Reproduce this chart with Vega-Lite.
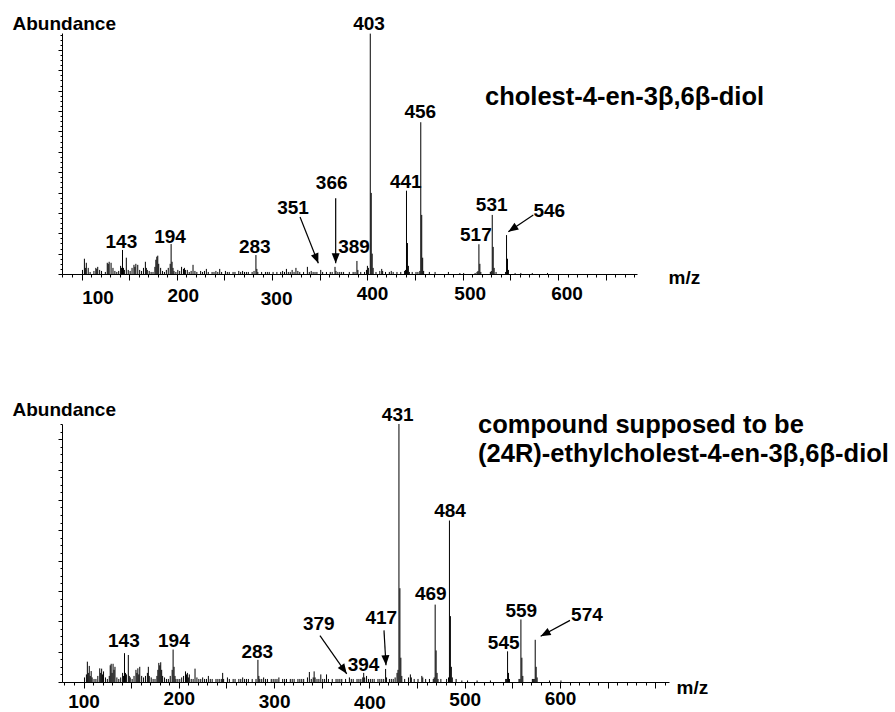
{
  "$schema": "https://vega.github.io/schema/vega-lite/v6.json",
  "padding": {"left": 12, "top": 14, "right": 0, "bottom": 0},
  "background": "white",
  "spacing": 91,
  "config": {
    "view": {"stroke": null},
    "font": "Liberation Sans",
    "axis": {"domainColor": "black", "tickColor": "black", "labelColor": "black", "titleColor": "black", "grid": false, "domainWidth": 1, "tickWidth": 1}
  },
  "datasets": {
    "top": [
      {"mz":101,"ab":2},{"mz":103,"ab":7.5},{"mz":104,"ab":3},{"mz":105,"ab":5.5},{"mz":107,"ab":3},{"mz":109,"ab":1},{"mz":113,"ab":1.5},{"mz":115,"ab":3},{"mz":116,"ab":2.5},{"mz":117,"ab":3.5},{"mz":119,"ab":2},{"mz":121,"ab":1.5},{"mz":125,"ab":1},{"mz":127,"ab":5.5},{"mz":128,"ab":5},{"mz":129,"ab":6},{"mz":131,"ab":5.5},{"mz":133,"ab":3},{"mz":135,"ab":1.5},{"mz":137,"ab":1},{"mz":139,"ab":1.5},{"mz":141,"ab":4},{"mz":142,"ab":3},{"mz":143,"ab":11.8},{"mz":144,"ab":3},{"mz":145,"ab":2},{"mz":147,"ab":8},{"mz":149,"ab":2},{"mz":151,"ab":1.5},{"mz":153,"ab":3},{"mz":155,"ab":4.5},{"mz":156,"ab":3.5},{"mz":157,"ab":5},{"mz":159,"ab":4.5},{"mz":161,"ab":2},{"mz":163,"ab":1.5},{"mz":165,"ab":3},{"mz":167,"ab":6},{"mz":168,"ab":3},{"mz":169,"ab":2},{"mz":171,"ab":1.5},{"mz":173,"ab":1},{"mz":175,"ab":1},{"mz":177,"ab":3.5},{"mz":178,"ab":7},{"mz":179,"ab":8.5},{"mz":180,"ab":9},{"mz":181,"ab":5},{"mz":183,"ab":3},{"mz":185,"ab":1.5},{"mz":187,"ab":1},{"mz":189,"ab":2},{"mz":191,"ab":3},{"mz":193,"ab":5},{"mz":194,"ab":14.7},{"mz":195,"ab":6},{"mz":196,"ab":3},{"mz":197,"ab":1.5},{"mz":199,"ab":1},
      {"mz":201,"ab":2},{"mz":203,"ab":1.5},{"mz":205,"ab":3.5},{"mz":207,"ab":2.5},{"mz":208,"ab":3},{"mz":209,"ab":2},{"mz":211,"ab":2},{"mz":213,"ab":1},{"mz":215,"ab":1.5},{"mz":217,"ab":4.5},{"mz":219,"ab":1.5},{"mz":221,"ab":1},{"mz":225,"ab":1.5},{"mz":227,"ab":1},{"mz":229,"ab":1.5},{"mz":231,"ab":2.5},{"mz":233,"ab":1},{"mz":237,"ab":1},{"mz":239,"ab":1},{"mz":241,"ab":1.5},{"mz":243,"ab":1},{"mz":245,"ab":2.5},{"mz":247,"ab":1},{"mz":251,"ab":1.5},{"mz":253,"ab":1},{"mz":255,"ab":1},{"mz":259,"ab":1},{"mz":261,"ab":1},{"mz":265,"ab":1.5},{"mz":267,"ab":1},{"mz":269,"ab":1.5},{"mz":271,"ab":1},{"mz":273,"ab":1},{"mz":275,"ab":1},{"mz":279,"ab":1},{"mz":281,"ab":1.5},{"mz":283,"ab":9.3},{"mz":284,"ab":2.5},{"mz":285,"ab":1},{"mz":289,"ab":1},{"mz":293,"ab":1},{"mz":295,"ab":1},{"mz":297,"ab":1},
      {"mz":301,"ab":1},{"mz":305,"ab":1},{"mz":309,"ab":1},{"mz":311,"ab":1.5},{"mz":313,"ab":1},{"mz":315,"ab":2.5},{"mz":317,"ab":1},{"mz":319,"ab":1},{"mz":321,"ab":2},{"mz":323,"ab":1},{"mz":325,"ab":3},{"mz":327,"ab":1.5},{"mz":329,"ab":1},{"mz":333,"ab":1},{"mz":337,"ab":3.5},{"mz":339,"ab":1},{"mz":341,"ab":1.5},{"mz":343,"ab":1},{"mz":345,"ab":1},{"mz":347,"ab":1},{"mz":351,"ab":2},{"mz":353,"ab":1},{"mz":357,"ab":1},{"mz":361,"ab":1},{"mz":363,"ab":1},{"mz":366,"ab":3.5},{"mz":367,"ab":1.5},{"mz":369,"ab":1},{"mz":371,"ab":1},{"mz":373,"ab":1},{"mz":375,"ab":1},{"mz":381,"ab":1},{"mz":385,"ab":1},{"mz":387,"ab":1},{"mz":389,"ab":6.4},{"mz":390,"ab":2},{"mz":393,"ab":1},{"mz":397,"ab":1},{"mz":399,"ab":2},{"mz":400,"ab":4},{"mz":401,"ab":3},{"mz":403,"ab":118},{"mz":404,"ab":39.8},{"mz":405,"ab":10},{"mz":406,"ab":3},{"mz":409,"ab":1},{"mz":413,"ab":1.5},{"mz":415,"ab":2.5},{"mz":416,"ab":1.5},{"mz":419,"ab":1},{"mz":423,"ab":1},{"mz":425,"ab":1.5},{"mz":427,"ab":1},{"mz":431,"ab":1},{"mz":435,"ab":1},{"mz":439,"ab":1.5},{"mz":440,"ab":2},{"mz":441,"ab":40.9},{"mz":442,"ab":15.2},{"mz":443,"ab":4},{"mz":444,"ab":1},{"mz":447,"ab":1},{"mz":451,"ab":1},{"mz":453,"ab":1},{"mz":455,"ab":1.5},{"mz":456,"ab":74.5},{"mz":457,"ab":29},{"mz":458,"ab":8},{"mz":459,"ab":1.5},{"mz":465,"ab":1},{"mz":471,"ab":1},{"mz":485,"ab":1},{"mz":497,"ab":0.5},{"mz":501,"ab":0.5},{"mz":513,"ab":0.5},{"mz":515,"ab":1},{"mz":516,"ab":1.5},{"mz":517,"ab":14.6},{"mz":518,"ab":5},{"mz":519,"ab":1},{"mz":529,"ab":1},{"mz":530,"ab":1.5},{"mz":531,"ab":29},{"mz":532,"ab":13.3},{"mz":533,"ab":3},{"mz":535,"ab":1},{"mz":545,"ab":1},{"mz":546,"ab":19.1},{"mz":547,"ab":7.5},{"mz":548,"ab":2},{"mz":555,"ab":0.5},{"mz":561,"ab":0.5},{"mz":573,"ab":0.5},{"mz":589,"ab":0.5}
    ],
    "bottom": [
      {"mz":101,"ab":1.5},{"mz":103,"ab":2.5},{"mz":104,"ab":6.7},{"mz":105,"ab":3},{"mz":106,"ab":5.3},{"mz":107,"ab":2},{"mz":108,"ab":3.6},{"mz":109,"ab":1.5},{"mz":111,"ab":1},{"mz":113,"ab":1},{"mz":115,"ab":2},{"mz":117,"ab":4.5},{"mz":118,"ab":3},{"mz":119,"ab":4.4},{"mz":120,"ab":2.5},{"mz":121,"ab":3.5},{"mz":123,"ab":1.5},{"mz":125,"ab":1},{"mz":127,"ab":2},{"mz":128,"ab":5.5},{"mz":129,"ab":6},{"mz":130,"ab":3},{"mz":131,"ab":6},{"mz":132,"ab":4},{"mz":133,"ab":5},{"mz":135,"ab":1.5},{"mz":137,"ab":1},{"mz":139,"ab":1.5},{"mz":141,"ab":3},{"mz":142,"ab":2},{"mz":143,"ab":9.5},{"mz":144,"ab":3},{"mz":145,"ab":2.5},{"mz":147,"ab":8.9},{"mz":148,"ab":2},{"mz":149,"ab":1.5},{"mz":151,"ab":1},{"mz":153,"ab":2},{"mz":155,"ab":4},{"mz":156,"ab":3},{"mz":157,"ab":4.5},{"mz":158,"ab":2.5},{"mz":159,"ab":5},{"mz":161,"ab":2},{"mz":163,"ab":1.5},{"mz":165,"ab":2},{"mz":167,"ab":3},{"mz":168,"ab":5},{"mz":169,"ab":2},{"mz":171,"ab":1.5},{"mz":173,"ab":1},{"mz":175,"ab":1},{"mz":177,"ab":2},{"mz":178,"ab":4},{"mz":179,"ab":6.3},{"mz":180,"ab":5.5},{"mz":181,"ab":6.5},{"mz":182,"ab":4},{"mz":183,"ab":2},{"mz":185,"ab":1.5},{"mz":187,"ab":1},{"mz":189,"ab":1},{"mz":191,"ab":2},{"mz":193,"ab":4},{"mz":194,"ab":10.7},{"mz":195,"ab":5},{"mz":196,"ab":2},{"mz":197,"ab":1},{"mz":199,"ab":1},
      {"mz":201,"ab":1},{"mz":203,"ab":1.5},{"mz":205,"ab":2},{"mz":207,"ab":3.5},{"mz":208,"ab":2.5},{"mz":209,"ab":3},{"mz":210,"ab":1.5},{"mz":211,"ab":2.5},{"mz":213,"ab":1},{"mz":215,"ab":1},{"mz":217,"ab":4.4},{"mz":219,"ab":1.5},{"mz":221,"ab":1},{"mz":223,"ab":1},{"mz":225,"ab":1.5},{"mz":227,"ab":1},{"mz":229,"ab":1},{"mz":231,"ab":2},{"mz":233,"ab":1},{"mz":235,"ab":1},{"mz":239,"ab":1},{"mz":241,"ab":1},{"mz":243,"ab":1},{"mz":245,"ab":1},{"mz":246,"ab":3},{"mz":247,"ab":1},{"mz":251,"ab":1.5},{"mz":253,"ab":1},{"mz":257,"ab":1},{"mz":259,"ab":1},{"mz":263,"ab":1},{"mz":265,"ab":1},{"mz":267,"ab":1.5},{"mz":269,"ab":1},{"mz":271,"ab":1},{"mz":273,"ab":1},{"mz":277,"ab":1},{"mz":281,"ab":1},{"mz":283,"ab":7.3},{"mz":284,"ab":2},{"mz":285,"ab":1},{"mz":287,"ab":1},{"mz":289,"ab":1.5},{"mz":291,"ab":1},{"mz":293,"ab":1},{"mz":297,"ab":1},{"mz":299,"ab":1},
      {"mz":301,"ab":1},{"mz":303,"ab":1},{"mz":305,"ab":1.5},{"mz":309,"ab":1},{"mz":311,"ab":1},{"mz":313,"ab":1},{"mz":317,"ab":1},{"mz":319,"ab":1},{"mz":321,"ab":1},{"mz":325,"ab":1},{"mz":327,"ab":1},{"mz":329,"ab":1},{"mz":331,"ab":1},{"mz":335,"ab":1.5},{"mz":337,"ab":3.3},{"mz":339,"ab":1},{"mz":341,"ab":1.5},{"mz":342,"ab":3.5},{"mz":343,"ab":1.5},{"mz":345,"ab":1},{"mz":347,"ab":1},{"mz":349,"ab":2.5},{"mz":351,"ab":1},{"mz":353,"ab":1},{"mz":355,"ab":2.5},{"mz":357,"ab":1},{"mz":361,"ab":1},{"mz":365,"ab":1},{"mz":367,"ab":1},{"mz":369,"ab":1},{"mz":371,"ab":1},{"mz":375,"ab":1},{"mz":379,"ab":1.5},{"mz":381,"ab":1},{"mz":383,"ab":1},{"mz":387,"ab":1},{"mz":389,"ab":1},{"mz":391,"ab":1},{"mz":393,"ab":1.5},{"mz":394,"ab":3},{"mz":395,"ab":1.5},{"mz":397,"ab":2},{"mz":399,"ab":1},
      {"mz":401,"ab":1},{"mz":403,"ab":1},{"mz":405,"ab":1},{"mz":409,"ab":1},{"mz":411,"ab":1},{"mz":413,"ab":1},{"mz":415,"ab":1},{"mz":417,"ab":4.3},{"mz":418,"ab":1.5},{"mz":421,"ab":1},{"mz":423,"ab":1},{"mz":425,"ab":1},{"mz":427,"ab":1.5},{"mz":429,"ab":3},{"mz":430,"ab":4},{"mz":431,"ab":85},{"mz":432,"ab":30.9},{"mz":433,"ab":8},{"mz":434,"ab":2},{"mz":437,"ab":1},{"mz":441,"ab":1.5},{"mz":443,"ab":2.5},{"mz":444,"ab":1.5},{"mz":447,"ab":1},{"mz":451,"ab":1},{"mz":455,"ab":2},{"mz":456,"ab":1.5},{"mz":459,"ab":1},{"mz":463,"ab":1},{"mz":467,"ab":1},{"mz":468,"ab":1.5},{"mz":469,"ab":25.5},{"mz":470,"ab":10.4},{"mz":471,"ab":3},{"mz":472,"ab":1},{"mz":475,"ab":1},{"mz":481,"ab":1},{"mz":483,"ab":1.5},{"mz":484,"ab":53.2},{"mz":485,"ab":21.7},{"mz":486,"ab":5},{"mz":487,"ab":1.5},{"mz":491,"ab":1},{"mz":497,"ab":0.5},{"mz":503,"ab":0.5},{"mz":513,"ab":0.5},{"mz":527,"ab":0.5},{"mz":543,"ab":1},{"mz":544,"ab":1},{"mz":545,"ab":10.1},{"mz":546,"ab":3},{"mz":547,"ab":1},{"mz":557,"ab":1},{"mz":558,"ab":1},{"mz":559,"ab":20.6},{"mz":560,"ab":8},{"mz":561,"ab":2},{"mz":571,"ab":1},{"mz":572,"ab":1},{"mz":573,"ab":1},{"mz":574,"ab":13.9},{"mz":575,"ab":5},{"mz":576,"ab":1.5},{"mz":589,"ab":0.5},{"mz":601,"ab":0.5}
    ],
    "topLabels": [
      {"mz":401.7,"ab":119.8,"t":"403"},{"mz":141.8,"ab":12.6,"t":"143"},{"mz":192.9,"ab":15.4,"t":"194"},{"mz":281.8,"ab":10.5,"t":"283"},{"mz":321.9,"ab":29.3,"t":"351"},{"mz":362.5,"ab":41.6,"t":"366"},{"mz":386,"ab":10.5,"t":"389"},{"mz":440.2,"ab":42.4,"t":"441"},{"mz":455.5,"ab":76.4,"t":"456"},{"mz":513.8,"ab":16.3,"t":"517"},{"mz":530.4,"ab":31.1,"t":"531"},{"mz":590.8,"ab":27.8,"t":"546"}
    ],
    "bottomLabels": [
      {"mz":429.7,"ab":86.1,"t":"431"},{"mz":142.3,"ab":11.5,"t":"143"},{"mz":194.8,"ab":11.5,"t":"194"},{"mz":282.3,"ab":7.9,"t":"283"},{"mz":346.9,"ab":17,"t":"379"},{"mz":393.8,"ab":3.6,"t":"394"},{"mz":412.5,"ab":19.2,"t":"417"},{"mz":464.4,"ab":26.9,"t":"469"},{"mz":484.6,"ab":54.5,"t":"484"},{"mz":540.9,"ab":11,"t":"545"},{"mz":559.4,"ab":21.4,"t":"559"},{"mz":628.3,"ab":20.1,"t":"574"}
    ],
    "topArrows": [
      {"id":"351","mz":329.3,"ab":28.0,"mz2":348.5,"ab2":5.25},
      {"id":"366","mz":366.7,"ab":37.2,"mz2":366.7,"ab2":5.25},
      {"id":"546","mz":574.1,"ab":29.0,"mz2":547.9,"ab2":20.8}
    ],
    "bottomArrows": [
      {"id":"379","mz":348.1,"ab":15.3,"mz2":376.2,"ab2":2.7},
      {"id":"417","mz":415.3,"ab":17,"mz2":417.4,"ab2":5.5},
      {"id":"574","mz":610.5,"ab":20.3,"mz2":579.7,"ab2":15.1}
    ]
  },
  "vconcat": [
    {
      "width": 575,
      "height": 241,
      "layer": [
        {
          "data": {"name": "top"},
          "mark": {"type": "rule", "color": "black", "strokeWidth": 1},
          "encoding": {
            "x": {"field": "mz", "type": "quantitative",
              "scale": {"domain": [79.5, 682.9], "nice": false, "zero": false},
              "axis": {
                "title": "m/z", "titleX": 606, "titleY": 9.3, "titleAlign": "left", "titleBaseline": "alphabetic", "titleAnchor": "start",
                "titleFontSize": 19, "titleFontWeight": "bold", "tickCount": 1000,
                "values": [80,90,100,110,120,130,140,150,160,170,180,190,200,210,220,230,240,250,260,270,280,290,300,310,320,330,340,350,360,370,380,390,400,410,420,430,440,450,460,470,480,490,500,510,520,530,540,550,560,570,580,590,600,610,620,630,640,650,660,670,680],
                "labelExpr": "datum.value % 100 == 0 ? datum.value : ''",
                "labelFontSize": 19, "labelFontWeight": "bold", "labelBaseline": "top", "labelFlush": false, "labelOverlap": false, "labelBound": false,
                "labelPadding": {"condition": [{"test": "datum.value == 100", "value": 8.3}, {"test": "datum.value == 200", "value": 6.6}, {"test": "datum.value == 300", "value": 9.9}, {"test": "datum.value == 400", "value": 4.3}], "value": 4.9},
                "labelOffset": {"condition": [{"test": "datum.value == 100", "value": 16}, {"test": "datum.value == 200", "value": 6}, {"test": "datum.value == 300", "value": 4}, {"test": "datum.value == 400", "value": 4.6}, {"test": "datum.value == 500", "value": 7}], "value": 8.5},
                "tickSize": {"condition": {"test": "datum.value % 50 == 0", "value": 6}, "value": 3}
              }
            },
            "y": {"field": "ab", "type": "quantitative",
              "scale": {"domain": [0, 118.3], "nice": false},
              "axis": {
                "title": "Abundance", "titleAngle": 0, "titleX": -50, "titleY": -3.7, "titleAlign": "left", "titleBaseline": "alphabetic", "titleAnchor": "start",
                "titleFontSize": 19, "titleFontWeight": "bold", "labels": false, "tickCount": 1000,
                "values": [0,2.5,5,7.5,10,12.5,15,17.5,20,22.5,25,27.5,30,32.5,35,37.5,40,42.5,45,47.5,50,52.5,55,57.5,60,62.5,65,67.5,70,72.5,75,77.5,80,82.5,85,87.5,90,92.5,95,97.5,100,102.5,105,107.5,110,112.5,115,117.5],
                "tickSize": {"condition": {"test": "datum.value % 10 == 0", "value": 4}, "value": 2}
              }
            },
            "y2": {"datum": 0}
          }
        },
        {
          "data": {"name": "topLabels"},
          "mark": {"type": "text", "font": "Liberation Sans", "fontSize": 19, "fontWeight": "bold", "align": "center", "baseline": "alphabetic", "color": "black"},
          "encoding": {
            "x": {"field": "mz", "type": "quantitative"},
            "y": {"field": "ab", "type": "quantitative"},
            "text": {"field": "t"}
          }
        },
        {
          "data": {"name": "topArrows"},
          "mark": {"type": "rule", "color": "black", "strokeWidth": 1.2},
          "encoding": {
            "x": {"field": "mz", "type": "quantitative"},
            "y": {"field": "ab", "type": "quantitative"},
            "x2": {"field": "mz2"},
            "y2": {"field": "ab2"}
          }
        },
        {
          "data": {"name": "topArrows"},
          "transform": [{"filter": "datum.id == '351'"}],
          "mark": {"type": "point", "shape": "M0,0L-0.4,-1L0.4,-1Z", "filled": true, "color": "black", "opacity": 1, "size": 400, "angle": -21.6},
          "encoding": {"x": {"field": "mz2", "type": "quantitative"}, "y": {"field": "ab2", "type": "quantitative"}}
        },
        {
          "data": {"name": "topArrows"},
          "transform": [{"filter": "datum.id == '366'"}],
          "mark": {"type": "point", "shape": "M0,0L-0.4,-1L0.4,-1Z", "filled": true, "color": "black", "opacity": 1, "size": 400, "angle": 0},
          "encoding": {"x": {"field": "mz2", "type": "quantitative"}, "y": {"field": "ab2", "type": "quantitative"}}
        },
        {
          "data": {"name": "topArrows"},
          "transform": [{"filter": "datum.id == '546'"}],
          "mark": {"type": "point", "shape": "M0,0L-0.4,-1L0.4,-1Z", "filled": true, "color": "black", "opacity": 1, "size": 400, "angle": 56.3},
          "encoding": {"x": {"field": "mz2", "type": "quantitative"}, "y": {"field": "ab2", "type": "quantitative"}}
        },
        {
          "data": {"values": [{}]},
          "mark": {"type": "text", "font": "Liberation Sans", "fontSize": 25.5, "fontWeight": "bold", "align": "left", "baseline": "alphabetic", "color": "black"},
          "encoding": {
            "x": {"datum": 523.4, "type": "quantitative"},
            "y": {"datum": 83, "type": "quantitative"},
            "text": {"value": "cholest-4-en-3β,6β-diol"}
          }
        }
      ]
    },
    {
      "width": 607,
      "height": 258,
      "layer": [
        {
          "data": {"name": "bottom"},
          "mark": {"type": "rule", "color": "black", "strokeWidth": 1},
          "encoding": {
            "x": {"field": "mz", "type": "quantitative",
              "scale": {"domain": [77.4, 714.4], "nice": false, "zero": false},
              "axis": {
                "title": "m/z", "titleX": 614, "titleY": 11.7, "titleAlign": "left", "titleBaseline": "alphabetic", "titleAnchor": "start",
                "titleFontSize": 19, "titleFontWeight": "bold", "tickCount": 1000,
                "values": [80,90,100,110,120,130,140,150,160,170,180,190,200,210,220,230,240,250,260,270,280,290,300,310,320,330,340,350,360,370,380,390,400,410,420,430,440,450,460,470,480,490,500,510,520,530,540,550,560,570,580,590,600,610,620,630,640,650,660,670,680,690,700,710],
                "labelExpr": "datum.value % 100 == 0 && datum.value < 700 ? datum.value : ''",
                "labelFontSize": 19, "labelFontWeight": "bold", "labelBaseline": "top", "labelFlush": false, "labelOverlap": false, "labelBound": false,
                "labelPadding": {"condition": [{"test": "datum.value == 100", "value": 4.2}, {"test": "datum.value == 200", "value": 1.2}, {"test": "datum.value == 300", "value": 4.2}, {"test": "datum.value == 400", "value": 5.2}, {"test": "datum.value == 500", "value": 2.8}], "value": 1.2},
                "tickSize": {"condition": {"test": "datum.value % 50 == 0", "value": 6}, "value": 3}
              }
            },
            "y": {"field": "ab", "type": "quantitative",
              "scale": {"domain": [0, 85], "nice": false},
              "axis": {
                "title": "Abundance", "titleAngle": 0, "titleX": -50, "titleY": -9, "titleAlign": "left", "titleBaseline": "alphabetic", "titleAnchor": "start",
                "titleFontSize": 19, "titleFontWeight": "bold", "labels": false, "tickCount": 1000,
                "values": [0,2.5,5,7.5,10,12.5,15,17.5,20,22.5,25,27.5,30,32.5,35,37.5,40,42.5,45,47.5,50,52.5,55,57.5,60,62.5,65,67.5,70,72.5,75,77.5,80,82.5,85],
                "tickSize": {"condition": {"test": "datum.value % 10 == 0", "value": 4}, "value": 2}
              }
            },
            "y2": {"datum": 0}
          }
        },
        {
          "data": {"name": "bottomLabels"},
          "mark": {"type": "text", "font": "Liberation Sans", "fontSize": 19, "fontWeight": "bold", "align": "center", "baseline": "alphabetic", "color": "black"},
          "encoding": {
            "x": {"field": "mz", "type": "quantitative"},
            "y": {"field": "ab", "type": "quantitative"},
            "text": {"field": "t"}
          }
        },
        {
          "data": {"name": "bottomArrows"},
          "mark": {"type": "rule", "color": "black", "strokeWidth": 1.2},
          "encoding": {
            "x": {"field": "mz", "type": "quantitative"},
            "y": {"field": "ab", "type": "quantitative"},
            "x2": {"field": "mz2"},
            "y2": {"field": "ab2"}
          }
        },
        {
          "data": {"name": "bottomArrows"},
          "transform": [{"filter": "datum.id == '379'"}],
          "mark": {"type": "point", "shape": "M0,0L-0.4,-1L0.4,-1Z", "filled": true, "color": "black", "opacity": 1, "size": 400, "angle": -34.9},
          "encoding": {"x": {"field": "mz2", "type": "quantitative"}, "y": {"field": "ab2", "type": "quantitative"}}
        },
        {
          "data": {"name": "bottomArrows"},
          "transform": [{"filter": "datum.id == '417'"}],
          "mark": {"type": "point", "shape": "M0,0L-0.4,-1L0.4,-1Z", "filled": true, "color": "black", "opacity": 1, "size": 400, "angle": -3.3},
          "encoding": {"x": {"field": "mz2", "type": "quantitative"}, "y": {"field": "ab2", "type": "quantitative"}}
        },
        {
          "data": {"name": "bottomArrows"},
          "transform": [{"filter": "datum.id == '574'"}],
          "mark": {"type": "point", "shape": "M0,0L-0.4,-1L0.4,-1Z", "filled": true, "color": "black", "opacity": 1, "size": 400, "angle": 62},
          "encoding": {"x": {"field": "mz2", "type": "quantitative"}, "y": {"field": "ab2", "type": "quantitative"}}
        },
        {
          "data": {"values": [{}]},
          "mark": {"type": "text", "font": "Liberation Sans", "fontSize": 25.5, "fontWeight": "bold", "align": "left", "baseline": "alphabetic", "color": "black", "lineHeight": 29.3},
          "encoding": {
            "x": {"datum": 514, "type": "quantitative"},
            "y": {"datum": 82, "type": "quantitative"},
            "text": {"value": ["compound supposed to be", "(24R)-ethylcholest-4-en-3β,6β-diol"]}
          }
        }
      ]
    }
  ]
}
